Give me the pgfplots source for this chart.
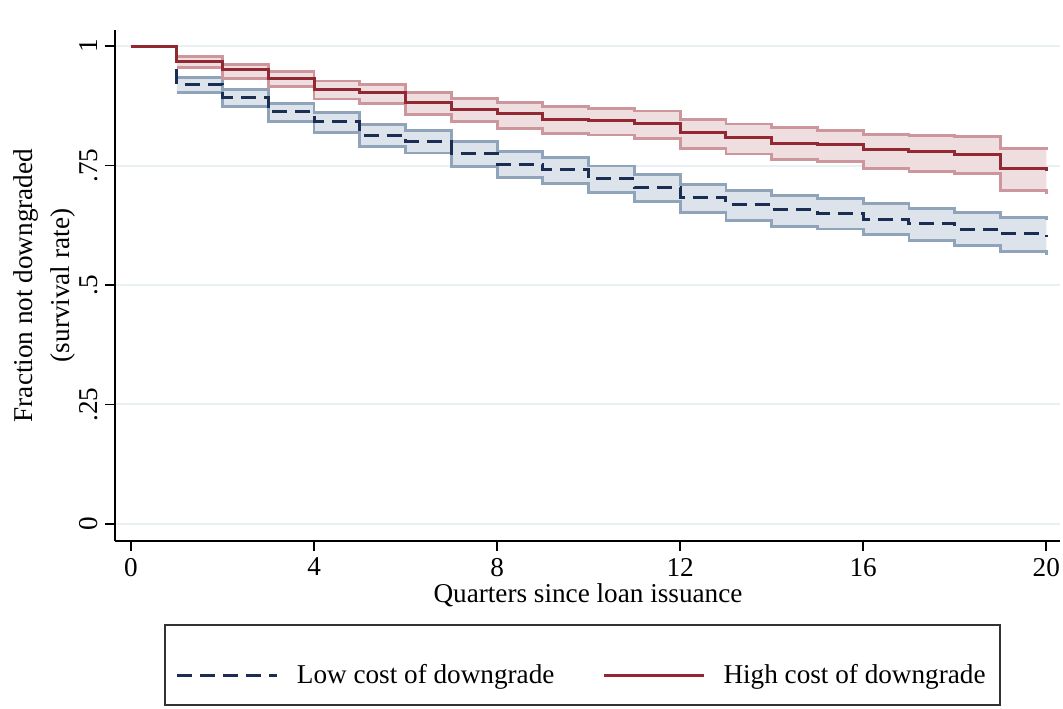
\documentclass[border=0pt]{standalone}
\usepackage{fontspec}
\setmainfont{Liberation Serif}
\usepackage{pgfplots}
\pgfplotsset{compat=1.18}
\usepgfplotslibrary{fillbetween}
\definecolor{navyline}{RGB}{28,45,84}
\definecolor{maroonline}{RGB}{145,40,50}
\definecolor{bluefill}{RGB}{221,227,234}
\definecolor{blueedge}{RGB}{143,164,186}
\definecolor{redfill}{RGB}{239,222,224}
\definecolor{rededge}{RGB}{204,150,156}
\definecolor{gridc}{RGB}{232,240,242}
\newcommand{\fs}{\fontsize{13.6}{16}\selectfont}

\pgfplotstableread{
x lo lol lou hi hil hiu
0 1.000 nan nan 1.000 nan nan
1 0.920 0.903 0.934 0.967 0.955 0.978
2 0.893 0.873 0.909 0.950 0.932 0.962
3 0.862 0.842 0.880 0.932 0.915 0.947
4 0.842 0.819 0.861 0.910 0.889 0.927
5 0.813 0.789 0.835 0.903 0.880 0.920
6 0.801 0.776 0.824 0.881 0.857 0.902
7 0.776 0.748 0.801 0.868 0.842 0.891
8 0.753 0.725 0.780 0.858 0.828 0.881
9 0.742 0.713 0.767 0.847 0.817 0.873
10 0.722 0.693 0.749 0.844 0.814 0.870
11 0.704 0.674 0.732 0.838 0.807 0.864
12 0.683 0.651 0.711 0.819 0.785 0.847
13 0.669 0.635 0.698 0.808 0.774 0.837
14 0.658 0.623 0.687 0.796 0.762 0.830
15 0.650 0.617 0.681 0.794 0.758 0.824
16 0.638 0.605 0.671 0.784 0.744 0.815
17 0.628 0.593 0.660 0.779 0.737 0.812
18 0.617 0.582 0.651 0.774 0.734 0.810
19 0.607 0.570 0.641 0.744 0.697 0.785
20 0.600 0.562 0.635 0.739 0.690 0.782
}\surv

\begin{document}
\begin{tikzpicture}
\begin{axis}[name=ax, scale only axis, width=472.5pt, height=255.5pt,
  xmin=-0.35, xmax=20.3, ymin=-0.0356, ymax=1.0335,
  axis x line*=bottom, axis y line*=left,
  axis line style={line width=0.8pt, black},
  xtick={0,4,...,20}, ytick={0,0.25,0.5,0.75,1}, yticklabels={0,.25,.5,.75,1},
  tick align=outside, major tick length=5pt,
  tick style={line width=0.8pt, black},
  ymajorgrids, grid style={line width=1pt, color=gridc},
  /pgf/number format/assume math mode=true,
  tick label style={font=\fs},
  yticklabel style={rotate=90, anchor=south},
  xlabel={Quarters since loan issuance},
  xlabel style={font=\fs, at={(axis description cs:0.5005,-0.106)}, anchor=center},
  ylabel={Fraction not downgraded\\[2.5pt](survival rate)},
  ylabel style={font=\fs, align=center, at={(axis description cs:-0.0751,0.5)}, anchor=center},
  clip=false,
  legend style={draw=none, fill=none, at={(axis description cs:0.495,-0.264)}, anchor=center,
    legend columns=2, font=\fs, /tikz/every even column/.append style={column sep=22pt}},
  legend image code/.code={\draw[#1] (0pt,0pt) -- (50pt,0pt); \path (57pt,0pt);},
]
% blue band
\addplot[name path=bu, const plot, draw=blueedge, line width=1.4pt, forget plot] table[x=x, y=lou] {\surv};
\addplot[name path=bl, const plot, draw=blueedge, line width=1.4pt, forget plot] table[x=x, y=lol] {\surv};
\addplot[fill=bluefill, draw=none, forget plot] fill between[of=bu and bl];
% red band
\addplot[name path=ru, const plot, draw=rededge, line width=1.4pt, forget plot] table[x=x, y=hiu] {\surv};
\addplot[name path=rl, const plot, draw=rededge, line width=1.4pt, forget plot] table[x=x, y=hil] {\surv};
\addplot[fill=redfill, draw=none, forget plot] fill between[of=ru and rl];
% lines
\addplot[const plot, navyline, line width=1.5pt, dash pattern=on 7.5pt off 4pt] table[x=x, y=lo] {\surv};
\addlegendentry{Low cost of downgrade}
\addplot[const plot, maroonline, line width=1.5pt] table[x=x, y=hi] {\surv};
\addlegendentry{High cost of downgrade}
\draw[line width=0.8pt, black!80] (axis description cs:0.0529,-0.1644) rectangle (axis description cs:0.9365,-0.3209);
\end{axis}
\pgfresetboundingbox
\path ([shift={(-57.5pt,-83.5pt)}]ax.south west) rectangle ([shift={(1.5pt,15pt)}]ax.north east);
\end{tikzpicture}
\end{document}
